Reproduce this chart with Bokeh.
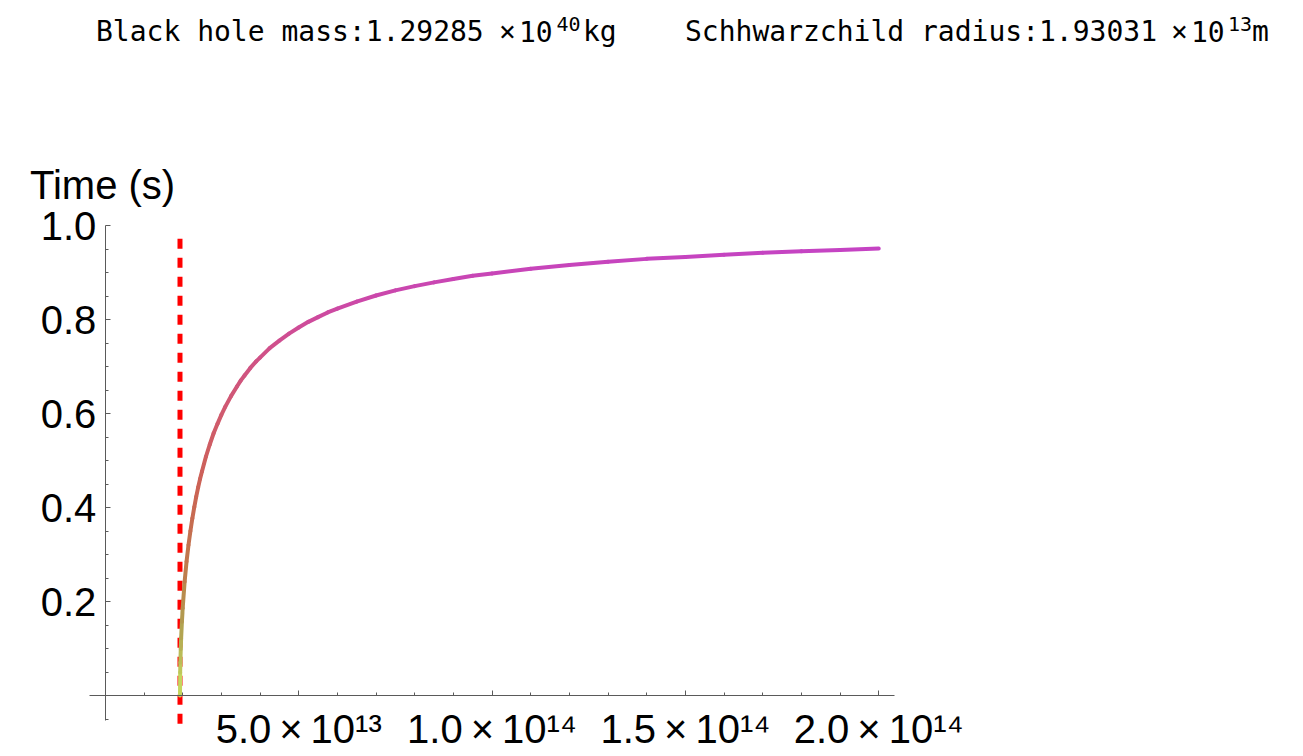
from bokeh.plotting import figure
from bokeh.models import Range1d, FixedTicker, Label, ColumnDataSource
from bokeh.embed import file_html
from bokeh.resources import INLINE

# ---------------- data ----------------
schwarzschild_radius = 1.93031e13  # m
# header pieces: (main text, "×", mantissa base, exponent, unit)
mass_parts = ["Black hole mass:1.29285", "\u00d7", "10", "40", "kg"]
radius_parts = ["Schhwarzchild radius:1.93031", "\u00d7", "10", "13", "m"]
y_axis_title = "Time (s)"

# distance r (in units of 1e13 m) and time (s)
r_e13 = [1.93031, 1.935, 1.94, 1.95, 1.96, 1.98, 2.0, 2.05, 2.1, 2.15, 2.2, 2.25,
         2.3, 2.35, 2.4, 2.45, 2.5, 2.6, 2.7, 2.8, 2.9, 3.0, 3.1, 3.25, 3.4, 3.5,
         3.6, 3.75, 3.9, 4.0, 4.25, 4.5, 4.75, 5.0, 5.25, 5.5, 5.75, 6.0, 6.5, 7.0,
         7.5, 8.0, 8.5, 9.0, 9.5, 10.0, 11.0, 12.0, 13.0, 14.0, 15.0, 16.0, 17.0,
         18.0, 19.0, 20.0]
time_s = [0.0, 0.049, 0.070, 0.099, 0.122, 0.157, 0.186, 0.242, 0.285, 0.320, 0.350, 0.377,
          0.401, 0.423, 0.443, 0.461, 0.477, 0.508, 0.534, 0.558, 0.578, 0.597, 0.614, 0.637, 0.657, 0.670,
          0.681, 0.697, 0.711, 0.719, 0.739, 0.755, 0.770, 0.783, 0.795, 0.805, 0.815, 0.823, 0.838, 0.851,
          0.862, 0.871, 0.879, 0.886, 0.893, 0.898, 0.908, 0.916, 0.923, 0.929, 0.933, 0.938, 0.942,
          0.945, 0.948, 0.951]

horizon_y = [-0.06, 0.99]

x_major = [5e13, 1e14, 1.5e14, 2e14]
x_labels = ["5.0\u2009\u00d7\u200910\u00b9\u00b3", "1.0\u2009\u00d7\u200910\u00b9\u2074",
            "1.5\u2009\u00d7\u200910\u00b9\u2074", "2.0\u2009\u00d7\u200910\u00b9\u2074"]
x_minor = [1e13, 2e13, 3e13, 4e13, 6e13, 7e13, 8e13, 9e13, 1.1e14, 1.2e14, 1.3e14, 1.4e14,
           1.6e14, 1.7e14, 1.8e14, 1.9e14]
y_major = [0.2, 0.4, 0.6, 0.8, 1.0]
y_labels = ["0.2", "0.4", "0.6", "0.8", "1.0"]
y_minor = [-0.05, 0.05, 0.1, 0.15, 0.25, 0.3, 0.35, 0.45, 0.5, 0.55, 0.65, 0.7, 0.75,
           0.85, 0.9, 0.95]

# ---------------- layout ----------------
W, H = 1290, 752
OFF = 1                      # canvas origin in the screenshot (px)
X_ORIGIN_PX, PX_PER_X = 105.85, 38.67 / 1e13
Y_ORIGIN_PX, PX_PER_Y = 696.0, 470.0
BASE_FIX = 0.33              # label baseline correction (fraction of font size)

def px_x(px):
    return (px - X_ORIGIN_PX) / PX_PER_X

def px_y(py):
    return (Y_ORIGIN_PX - py) / PX_PER_Y

AX_X = (px_x(90.0), px_x(894.7))
AX_Y = (px_y(721.0), 1.0)

p = figure(width=W, height=H,
           x_range=Range1d(px_x(OFF), px_x(OFF + W)),
           y_range=Range1d(px_y(OFF + H), px_y(OFF)),
           output_backend="svg", toolbar_location=None,
           min_border_left=0, min_border_top=0, min_border_right=0, min_border_bottom=0)
p.outline_line_color = None
p.xgrid.visible = False
p.ygrid.visible = False
p.background_fill_color = "white"
p.border_fill_color = "white"

axis_col = "#5a5a5a"
for ax in (p.xaxis[0], p.yaxis[0]):
    ax.fixed_location = 0
    ax.axis_line_color = axis_col
    ax.axis_line_width = 1
    ax.major_tick_line_color = axis_col
    ax.minor_tick_line_color = axis_col
    ax.major_tick_in = 5
    ax.major_tick_out = 0
    ax.minor_tick_in = 3
    ax.minor_tick_out = 0
    ax.major_label_text_font = "Liberation Sans"
    ax.major_label_text_font_size = "40px"
    ax.major_label_text_color = "black"

p.xaxis.bounds = AX_X
p.yaxis.bounds = AX_Y
p.xaxis.ticker = FixedTicker(ticks=x_major, minor_ticks=x_minor)
p.xaxis.major_label_overrides = {float(k): v for k, v in zip(x_major, x_labels)}
p.xaxis.major_label_standoff = 11
p.yaxis.ticker = FixedTicker(ticks=y_major, minor_ticks=y_minor)
p.yaxis.major_label_overrides = {float(k): v for k, v in zip(y_major, y_labels)}
p.yaxis.major_label_standoff = 9

# event horizon (dashed red)
p.line(x=[schwarzschild_radius, schwarzschild_radius], y=horizon_y,
       line_color="#ff0000", line_width=5, line_dash="10 9")

# gradient curve coloured by time value
stops = [(0.00, (200, 224, 96)), (0.15, (176, 160, 80)), (0.28, (192, 120, 76)),
         (0.45, (204, 98, 85)), (0.60, (208, 90, 110)), (0.74, (208, 80, 138)),
         (0.84, (204, 72, 168)), (0.96, (196, 67, 198))]

def col(t):
    for (a, ca), (b, cb) in zip(stops[:-1], stops[1:]):
        if t <= b:
            f = max(0.0, (t - a) / (b - a))
            c = [round(ca[i] + (cb[i] - ca[i]) * f) for i in range(3)]
            return "#%02x%02x%02x" % tuple(c)
    return "#%02x%02x%02x" % stops[-1][1]

rx = [v * 1e13 for v in r_e13]
src = ColumnDataSource(dict(
    x0=rx[:-1], x1=rx[1:], y0=time_s[:-1], y1=time_s[1:],
    c=[col((a + b) / 2) for a, b in zip(time_s[:-1], time_s[1:])]))
p.segment(x0="x0", y0="y0", x1="x1", y1="y1", source=src, line_color="c",
          line_width=4, line_cap="round")

# texts
def add_text(txt, x_px, base_px, font, size, align="left"):
    p.add_layout(Label(x=px_x(x_px), y=px_y(base_px - BASE_FIX * size), text=txt,
                       text_font=font, text_font_size=f"{size}px", text_color="black",
                       text_baseline="alphabetic", text_align=align))

add_text(y_axis_title, 30.5, 198.3, "Liberation Sans", 40)

MONO = "DejaVu Sans Mono"
HB = 41.7  # header baseline (screenshot px)
for parts, xs in ((mass_parts, (96.5, 508.0, 519.5, 557.0, 583.5)),
                  (radius_parts, (685.5, 1180.0, 1191.5, 1228.5, 1252.5))):
    add_text(parts[0], xs[0], HB, MONO, 28)
    add_text(parts[1], xs[1], HB, MONO, 28, align="center")
    add_text(parts[2], xs[2], HB, MONO, 28)
    add_text(parts[3], xs[3], HB - 11, MONO, 20)
    add_text(parts[4], xs[4], HB, MONO, 28)

open("out.html", "w").write(file_html(p, INLINE))
